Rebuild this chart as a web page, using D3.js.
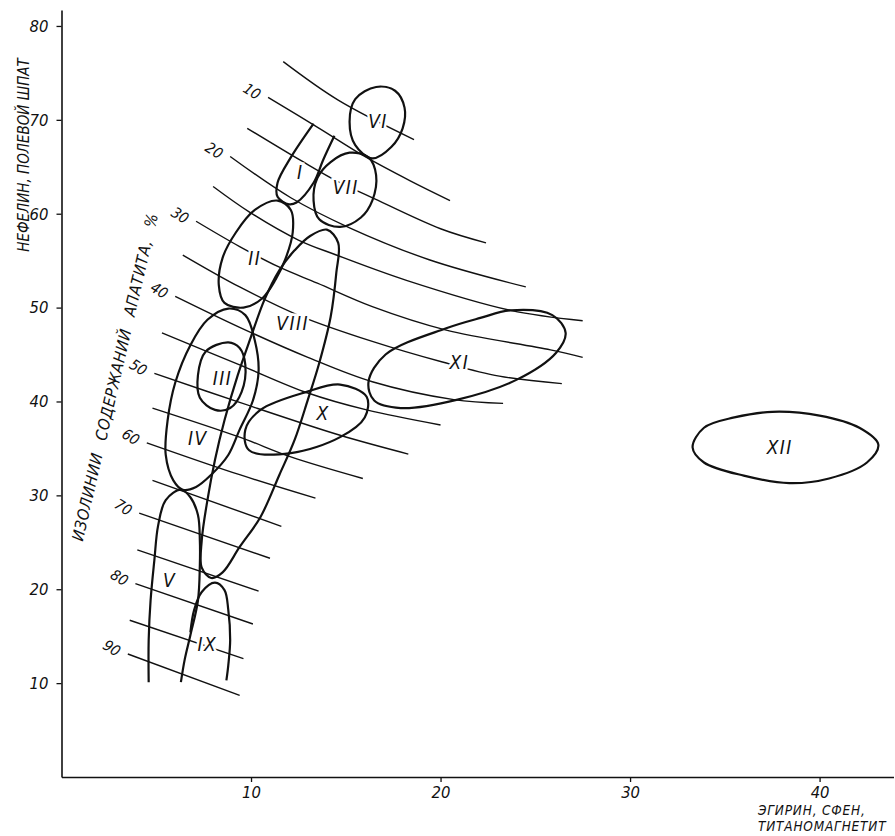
<!DOCTYPE html>
<html>
<head>
<meta charset="utf-8">
<script src="https://cdn.jsdelivr.net/npm/d3@7"></script>
<style>
  body { margin: 0; background: #fff; }
  text { font-family: "DejaVu Sans Condensed", "DejaVu Sans", sans-serif; font-style: italic; fill: #111; }
</style>
</head>
<body>
<div id="chart"></div>
<script>
// axis ticks
const xTicks = [10, 20, 30, 40];
const yTicks = [10, 20, 30, 40, 50, 60, 70, 80];

// isolines of apatite content, %
const isoLevels = [5, 10, 15, 20, 25, 30, 35, 40, 45, 50, 55, 60, 65, 70, 75, 80, 85, 90];
const isoLines = [
  [[11.7, 76.2], [14.6, 72.1], [18.6, 67.9]],
  [[10.9, 72.4], [13.6, 69.1], [16.0, 66.1], [18.4, 63.5], [20.5, 61.4]],
  [[9.8, 69.1], [12.6, 65.7], [14.6, 63.4], [16.3, 61.8], [20.0, 58.4], [22.4, 56.9]],
  [[8.9, 66.1], [12.1, 61.7], [15.2, 58.5], [19.4, 55.1], [24.5, 52.2]],
  [[8.0, 62.9], [9.9, 60.2], [12.5, 57.2], [14.5, 55.6], [18.2, 52.9], [23.7, 49.7], [27.5, 48.6]],
  [[7.1, 59.2], [9.4, 56.5], [11.5, 54.3], [13.5, 52.6], [16.4, 50.1], [20.3, 47.6], [25.8, 45.5], [27.5, 44.7]],
  [[6.4, 55.6], [9.4, 52.2], [12.6, 49.1], [16.4, 46.4], [20.1, 44.2], [23.1, 42.7], [26.4, 41.9]],
  [[6.0, 51.2], [9.4, 47.9], [13.0, 44.7], [16.4, 42.1], [20.7, 40.2], [23.3, 39.8]],
  [[5.3, 47.3], [9.4, 43.9], [13.0, 40.9], [16.1, 39.1], [20.0, 37.5]],
  [[4.9, 43.0], [9.4, 39.9], [14.7, 36.4], [18.3, 34.4]],
  [[4.8, 39.3], [9.4, 36.2], [12.1, 34.1], [15.9, 31.8]],
  [[4.5, 35.6], [9.4, 32.2], [13.4, 29.7]],
  [[4.8, 31.6], [11.6, 26.7]],
  [[4.1, 28.1], [11.0, 23.3]],
  [[4.0, 24.2], [10.4, 19.8]],
  [[3.9, 20.6], [10.1, 16.3]],
  [[3.6, 16.7], [9.6, 12.6]],
  [[3.5, 13.1], [9.4, 8.7]]
];

// rock groups I - XII
const regionNames = ["I", "II", "III", "IV", "V", "VI", "VII", "VIII", "IX", "X", "XI", "XII"];
const regionOpen = [true, false, false, false, true, false, false, false, true, false, false, false];
const regionLabels = [
  [12.6, 64.4], [10.2, 55.3], [8.5, 42.5], [7.2, 36.1], [5.7, 21.0], [16.7, 69.9],
  [15.0, 62.8], [12.2, 48.3], [7.7, 14.2], [13.8, 38.8], [21.0, 44.2], [37.9, 35.1]
];
const regionOutlines = [
  // I
  [[13.3, 69.6], [12.1, 66.0], [11.4, 63.3], [11.4, 61.8], [12.0, 61.0], [12.4, 61.2], [13.3, 63.3], [13.8, 65.7], [14.4, 68.3]],
  // II
  [[11.4, 61.4], [12.1, 60.4], [12.2, 58.0], [11.8, 55.1], [11.3, 53.0], [10.6, 51.0], [9.6, 50.0], [8.6, 50.5], [8.3, 52.4], [8.5, 55.3], [9.2, 58.0], [10.2, 60.4]],
  // III
  [[8.8, 46.3], [9.4, 45.7], [9.7, 43.9], [9.5, 41.0], [8.9, 39.3], [8.1, 39.1], [7.3, 40.4], [7.2, 42.8], [7.6, 45.3]],
  // IV
  [[8.8, 49.9], [9.7, 49.2], [10.2, 46.5], [10.4, 43.3], [10.1, 40.1], [9.4, 37.0], [8.8, 34.3], [7.9, 32.2], [7.1, 30.9], [6.4, 30.6], [5.9, 31.6], [5.5, 34.3], [5.6, 38.0], [6.0, 42.0], [6.8, 46.0], [7.7, 48.7]],
  // V
  [[4.6, 10.1], [4.6, 14.6], [4.7, 18.8], [4.9, 23.1], [5.1, 26.8], [5.5, 29.5], [6.3, 30.6], [6.8, 29.8], [7.2, 27.9], [7.3, 25.2], [7.3, 22.6], [7.2, 18.8], [6.8, 15.1], [6.5, 12.5], [6.3, 10.1]],
  // VI
  [[16.6, 73.5], [17.6, 73.1], [18.1, 71.3], [18.0, 69.1], [17.4, 67.1], [16.4, 65.9], [15.5, 67.3], [15.2, 69.8], [15.5, 72.2]],
  // VII
  [[15.2, 66.5], [16.2, 66.0], [16.6, 64.1], [16.4, 61.4], [15.8, 59.6], [14.7, 58.6], [13.6, 59.4], [13.3, 61.4], [13.5, 63.8], [14.2, 65.5]],
  // VIII
  [[14.0, 58.3], [14.6, 56.9], [14.5, 53.7], [14.2, 49.0], [13.6, 44.1], [13.0, 40.2], [12.3, 35.9], [11.5, 32.2], [10.5, 27.7], [9.4, 24.5], [8.5, 21.8], [7.9, 21.2], [7.4, 22.3], [7.4, 25.2], [7.7, 29.5], [8.1, 33.8], [8.6, 38.0], [9.3, 42.8], [10.0, 46.9], [10.7, 50.8], [11.5, 54.0], [12.3, 56.1], [13.1, 57.6]],
  // IX
  [[6.8, 15.4], [7.0, 17.8], [7.4, 19.7], [8.1, 20.7], [8.6, 19.9], [8.8, 17.8], [8.9, 14.6], [8.8, 11.9], [8.7, 10.3]],
  // X
  [[14.7, 41.8], [16.1, 40.5], [16.0, 38.3], [14.7, 36.2], [12.1, 34.5], [9.9, 34.8], [9.7, 37.0], [10.5, 39.1], [12.9, 41.0]],
  // XI
  [[23.7, 49.7], [25.9, 49.2], [26.6, 47.3], [26.1, 45.2], [24.0, 42.3], [20.9, 40.2], [17.9, 39.3], [16.5, 40.1], [16.2, 42.1], [17.1, 45.0], [20.3, 47.8], [22.1, 48.9]],
  // XII
  [[37.5, 38.9], [40.0, 38.5], [42.1, 37.2], [43.1, 35.4], [42.5, 33.5], [40.5, 31.8], [38.4, 31.3], [36.0, 32.1], [33.9, 33.5], [33.3, 35.1], [33.9, 37.2], [35.5, 38.3]]
];

const width = 895, height = 836;

const svg = d3.select("#chart")
  .append("svg")
    .attr("width", width)
    .attr("height", height);

const x = d3.scaleLinear()
  .domain([0, 43.9])
  .range([61.5, 893.5]);

const y = d3.scaleLinear()
  .domain([0, 81.7])
  .range([777, 10]);

// axes
const xAxis = svg.append("g")
  .attr("transform", "translate(0," + y(0) + ")")
  .call(d3.axisBottom(x).tickValues(xTicks).tickSize(5).tickSizeOuter(0).tickPadding(4));

const yAxis = svg.append("g")
  .attr("transform", "translate(" + x(0) + ",0)")
  .call(d3.axisLeft(y).tickValues(yTicks).tickSize(5).tickSizeOuter(0).tickPadding(8));

[xAxis, yAxis].forEach(function(g) {
  g.select(".domain").attr("stroke", "#111").attr("stroke-width", 1.6);
  g.selectAll(".tick line").attr("stroke", "#111").attr("stroke-width", 1.3);
  g.selectAll(".tick text")
    .attr("fill", "#111")
    .style("font-size", "16.5px")
    .style("font-family", "\"DejaVu Sans Condensed\", \"DejaVu Sans\", sans-serif")
    .style("font-style", "italic");
});

// isolines
const isoLine = d3.line()
  .x(d => x(d[0]))
  .y(d => y(d[1]))
  .curve(d3.curveCatmullRom.alpha(0.5));

svg.append("g")
  .selectAll("path")
  .data(isoLines)
  .enter().append("path")
    .attr("fill", "none")
    .attr("stroke", "#111")
    .attr("stroke-width", 1.4)
    .attr("d", isoLine);

svg.append("g")
  .selectAll("text")
  .data(isoLines.filter((d, i) => isoLevels[i] % 10 === 0))
  .enter().append("text")
    .attr("transform", function(d, i) {
      const px = x(d[0][0]) - 16, py = y(d[0][1]) - 6;
      return "translate(" + px + "," + py + ") rotate(32)";
    })
    .attr("text-anchor", "middle")
    .attr("dy", "0.35em")
    .style("font-size", "15px")
    .text((d, i) => isoLevels.filter(v => v % 10 === 0)[i]);

// regions
const closedLine = d3.line()
  .x(d => x(d[0]))
  .y(d => y(d[1]))
  .curve(d3.curveCatmullRomClosed.alpha(0.5));

svg.append("g")
  .selectAll("path")
  .data(regionOutlines)
  .enter().append("path")
    .attr("fill", "none")
    .attr("stroke", "#111")
    .attr("stroke-width", 2.2)
    .attr("stroke-linejoin", "round")
    .attr("d", (d, i) => regionOpen[i] ? isoLine(d) : closedLine(d));

svg.append("g")
  .selectAll("text")
  .data(regionNames)
  .enter().append("text")
    .attr("x", (d, i) => x(regionLabels[i][0]))
    .attr("y", (d, i) => y(regionLabels[i][1]))
    .attr("text-anchor", "middle")
    .attr("dy", "0.36em")
    .attr("stroke", "#fff")
    .attr("stroke-width", 5)
    .attr("paint-order", "stroke")
    .style("font-size", "19px")
    .style("letter-spacing", "1.5px")
    .text(d => d);

// axis titles
svg.append("text")
  .attr("transform", "translate(24,155) rotate(-90)")
  .attr("text-anchor", "middle")
  .attr("dy", "0.35em")
  .style("font-size", "15px")
  .text("НЕФЕЛИН, ПОЛЕВОЙ ШПАТ");

svg.append("text")
  .attr("transform", "translate(115,377) rotate(-77)")
  .attr("text-anchor", "middle")
  .attr("dy", "0.35em")
  .style("font-size", "16px")
  .style("letter-spacing", "0.6px")
  .style("word-spacing", "8px")
  .text("ИЗОЛИНИИ СОДЕРЖАНИЙ АПАТИТА, %");

svg.append("text")
  .attr("x", 758)
  .attr("y", 815)
  .style("font-size", "13.5px")
  .style("letter-spacing", "0.8px")
  .text("ЭГИРИН, СФЕН,");

svg.append("text")
  .attr("x", 758)
  .attr("y", 831)
  .style("font-size", "13.5px")
  .style("letter-spacing", "0.8px")
  .text("ТИТАНОМАГНЕТИТ");
</script>
</body>
</html>
